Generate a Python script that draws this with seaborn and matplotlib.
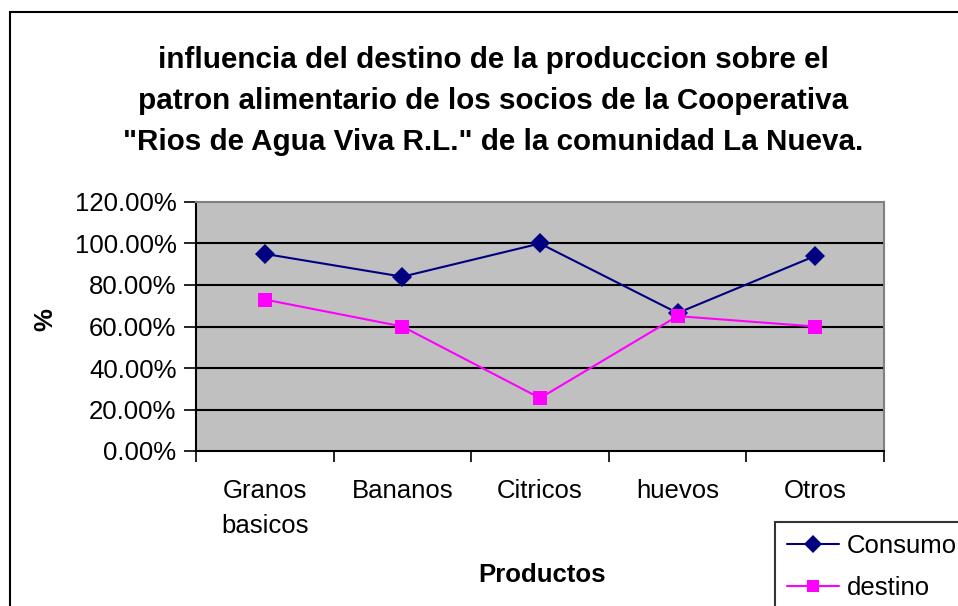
import matplotlib
matplotlib.use("Agg")
import matplotlib.pyplot as plt
from matplotlib.patches import Rectangle
from matplotlib.lines import Line2D
from matplotlib.ticker import FixedLocator, PercentFormatter
import seaborn as sns
import pandas as pd

productos = ["Granos\nbasicos", "Bananos", "Citricos", "huevos", "Otros"]
consumo = [95.0, 84.0, 100.0, 66.5, 94.0]
destino = [73.0, 60.0, 25.5, 65.0, 60.0]
series = ["Consumo", "destino"]
colores = {"Consumo": "#000080", "destino": "#FF00FF"}
marcadores = {"Consumo": "D", "destino": "s"}

df = pd.DataFrame({
    "pos": list(range(len(productos))) * 2,
    "valor": consumo + destino,
    "serie": [series[0]] * len(productos) + [series[1]] * len(productos),
})

sns.set_theme(style="white")
plt.rcParams["font.family"] = ["Liberation Sans", "DejaVu Sans"]
plt.rcParams["text.color"] = "black"
plt.rcParams["xtick.color"] = "black"
plt.rcParams["ytick.color"] = "black"
plt.rcParams["axes.labelcolor"] = "black"

FS = 18.5

fig = plt.figure(figsize=(9.58, 6.06), dpi=100)
ax = fig.add_axes([196 / 958, 1 - 451 / 606, (884 - 196) / 958, (451 - 202) / 606])
ax.set_facecolor("#C0C0C0")

# outer chart frame
fig.patches.append(Rectangle((10 / 958, -0.1), 1.2, 1 - 12 / 606 + 0.1,
                             transform=fig.transFigure, fill=False,
                             edgecolor="black", linewidth=1.5, zorder=0))

sns.lineplot(data=df, x="pos", y="valor", hue="serie", style="serie",
             palette=colores, markers=marcadores, dashes=False,
             markersize=10, linewidth=1.5, markeredgewidth=0, ax=ax,
             legend=False)

ax.set_xlim(-0.5, len(productos) - 0.5)
ax.set_ylim(0, 120)
ax.yaxis.set_major_locator(FixedLocator([0, 20, 40, 60, 80, 100, 120]))
ax.yaxis.set_major_formatter(PercentFormatter(decimals=2))
for y in [20, 40, 60, 80, 100]:
    ax.axhline(y, color="black", linewidth=1.5, zorder=1)

ax.set_xticks(range(len(productos)))
ax.set_xticklabels(productos, fontsize=FS, linespacing=1.6, va="top")
ax.set_xticks([i - 0.5 for i in range(len(productos) + 1)], minor=True)
ax.tick_params(axis="x", which="major", length=0, pad=20)
ax.tick_params(axis="x", which="minor", length=8, width=1.2, color="black",
               direction="out", bottom=True)
ax.tick_params(axis="y", length=9, width=1.2, color="black", direction="out",
               left=True, labelsize=FS, pad=5)
for side in ["left", "bottom"]:
    ax.spines[side].set_color("black")
    ax.spines[side].set_linewidth(1.5)
for side in ["top", "right"]:
    ax.spines[side].set_color("#808080")
    ax.spines[side].set_linewidth(1.5)

ax.set_xlabel("")
ax.set_ylabel("")
fig.text(542 / 958, 1 - 575 / 606, "Productos", ha="center", va="center",
         fontsize=FS, fontweight="bold")
fig.text(45 / 958, 1 - 320 / 606, "%", ha="center", va="center",
         fontsize=FS, fontweight="bold", rotation=90)

fig.text(493 / 958, 1 - 101 / 606,
         "influencia del destino de la produccion sobre el\n"
         "patron alimentario de los socios de la Cooperativa\n"
         "\"Rios de Agua Viva R.L.\" de la comunidad La Nueva.",
         ha="center", va="center", fontsize=21.3, fontweight="bold",
         linespacing=1.6)

# legend
handles = [Line2D([], [], color=colores[s], marker=marcadores[s],
                  markersize=9 if s == "Consumo" else 8, linewidth=1.5,
                  markeredgewidth=0) for s in series]
leg = fig.legend(handles, series, loc="upper left",
                 bbox_to_anchor=(775 / 958, 1 - 522 / 606),
                 frameon=True, fancybox=False, fontsize=FS,
                 handlelength=2.05, handletextpad=0.3, labelspacing=0.7,
                 borderpad=0.45, borderaxespad=0)
leg.get_frame().set_edgecolor("black")
leg.get_frame().set_linewidth(1.5)

fig.savefig("out.png", dpi=100, facecolor="white")
